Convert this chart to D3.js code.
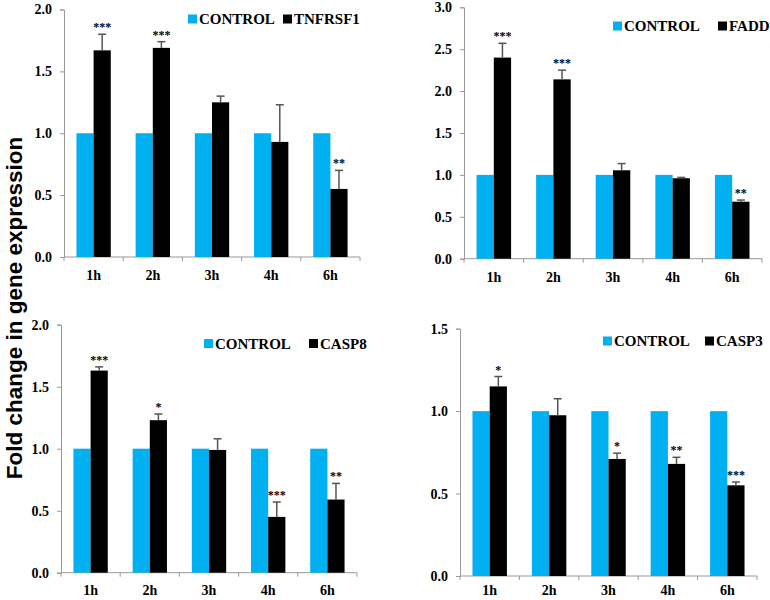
<!DOCTYPE html>
<html>
<head>
<meta charset="utf-8">
<script src="https://cdn.jsdelivr.net/npm/d3@7.9.0/dist/d3.min.js"></script>
<style>
  body { margin: 0; background: #fff; }
  svg { display: block; }
  .tick text { font-family: "Liberation Serif", "Times New Roman", serif; font-weight: bold; font-size: 14px; fill: #000; }
  .domain, .tick line { stroke: #999; }
  .xlab { font-family: "Liberation Serif", "Times New Roman", serif; font-weight: bold; font-size: 14px; }
  .legend text { font-family: "Liberation Serif", "Times New Roman", serif; font-weight: bold; font-size: 15px; }
  .sig { font-family: "Liberation Serif", "Times New Roman", serif; font-size: 12px; font-weight: bold; }
</style>
</head>
<body>
<svg id="chart" width="770" height="600"></svg>
<script>
// data
const times = ['1h', '2h', '3h', '4h', '6h'];
const control = [1, 1, 1, 1, 1];

const tnfrsf1 = [1.67, 1.69, 1.25, 0.93, 0.55];
const tnfrsf1Err = [0.13, 0.05, 0.05, 0.30, 0.15];
const tnfrsf1Sig = ['***', '***', '', '', '**'];

const fadd = [2.40, 2.14, 1.055, 0.96, 0.68];
const faddErr = [0.17, 0.11, 0.08, 0.01, 0.02];
const faddSig = ['***', '***', '', '', '**'];

const casp8 = [1.63, 1.23, 0.99, 0.45, 0.59];
const casp8Err = [0.03, 0.05, 0.09, 0.12, 0.13];
const casp8Sig = ['***', '*', '', '***', '**'];

const casp3 = [1.15, 0.975, 0.71, 0.68, 0.55];
const casp3Err = [0.06, 0.10, 0.035, 0.04, 0.02];
const casp3Sig = ['*', '', '*', '**', '***'];

const blue = '#00b0f0';
const svg = d3.select('#chart');

// panel layout (pixel boxes)
const panels = [
  { gene: 'TNFRSF1', vals: tnfrsf1, err: tnfrsf1Err, sig: tnfrsf1Sig, ymax: 2.0,
    x0: 64, x1: 360, yTop: 9.5, yBot: 257, leg: [188, 19, 283] },
  { gene: 'FADD', vals: fadd, err: faddErr, sig: faddSig, ymax: 3.0,
    x0: 464, x1: 762, yTop: 7.3, yBot: 258.7, leg: [613, 26, 718] },
  { gene: 'CASP8', vals: casp8, err: casp8Err, sig: casp8Sig, ymax: 2.0,
    x0: 61, x1: 357, yTop: 324.7, yBot: 572.7, leg: [204, 343.5, 309] },
  { gene: 'CASP3', vals: casp3, err: casp3Err, sig: casp3Sig, ymax: 1.5,
    x0: 460, x1: 757, yTop: 328.7, yBot: 576, leg: [603, 341, 705] },
];

panels.forEach(p => {
  const g = svg.append('g');

  const x = d3.scaleBand().domain(times).range([p.x0, p.x1])
    .paddingInner(0.42).paddingOuter(0.21);
  const xs = d3.scaleBand().domain(['control', 'gene']).range([0, x.bandwidth()]);
  const y = d3.scaleLinear().domain([0, p.ymax]).range([p.yBot, p.yTop]);

  // y axis
  const yAxis = d3.axisLeft(y).tickValues(d3.range(0, p.ymax + 0.01, 0.5))
    .tickFormat(d3.format('.1f')).tickSize(4).tickPadding(8);
  g.append('g').attr('transform', `translate(${p.x0},0)`).call(yAxis);

  // x axis: ticks at category boundaries
  const xAxisG = g.append('g').attr('transform', `translate(0,${p.yBot})`);
  xAxisG.append('line').attr('x1', p.x0).attr('x2', p.x1).attr('stroke', '#999');
  const step = x.step();
  d3.range(times.length + 1).forEach(i => {
    const xx = p.x0 + i * step;
    xAxisG.append('line').attr('x1', xx).attr('x2', xx).attr('y1', 0).attr('y2', 4).attr('stroke', '#999');
  });
  // keep the bottom row inside the page
  const labY = Math.min(23, 595 - p.yBot);
  times.forEach(t => {
    xAxisG.append('text').attr('class', 'xlab')
      .attr('x', x(t) + x.bandwidth() / 2).attr('y', labY)
      .attr('text-anchor', 'middle')
      .text(t);
  });

  // control bars
  g.selectAll('.cbar').data(times).join('rect')
    .attr('x', d => x(d) + xs('control'))
    .attr('y', (d, i) => y(control[i]))
    .attr('width', xs.bandwidth())
    .attr('height', (d, i) => y(0) - y(control[i]))
    .attr('fill', blue);

  // gene bars
  g.selectAll('.gbar').data(times).join('rect')
    .attr('x', d => x(d) + xs('gene'))
    .attr('y', (d, i) => y(p.vals[i]))
    .attr('width', xs.bandwidth())
    .attr('height', (d, i) => y(0) - y(p.vals[i]))
    .attr('fill', '#000');

  // error bars (upper only)
  times.forEach((t, i) => {
    const cx = x(t) + xs('gene') + xs.bandwidth() / 2;
    const top = y(p.vals[i] + p.err[i]);
    g.append('line').attr('x1', cx).attr('x2', cx)
      .attr('y1', y(p.vals[i])).attr('y2', top)
      .attr('stroke', '#555').attr('stroke-width', 1.5);
    g.append('line').attr('x1', cx - 4).attr('x2', cx + 4)
      .attr('y1', top).attr('y2', top)
      .attr('stroke', '#555').attr('stroke-width', 1.5);
    if (p.sig[i]) {
      g.append('text').attr('class', 'sig')
        .attr('x', cx).attr('y', top - 3)
        .attr('text-anchor', 'middle')
        .text(p.sig[i]);
    }
  });

  // legend
  const leg = g.append('g').attr('class', 'legend');
  const [bx, ly, kx] = p.leg;
  leg.append('rect').attr('x', bx).attr('y', ly - 4.5).attr('width', 9).attr('height', 9).attr('fill', blue);
  leg.append('text').attr('x', bx + 11).attr('y', ly + 5).text('CONTROL');
  leg.append('rect').attr('x', kx).attr('y', ly - 4.5).attr('width', 9).attr('height', 9).attr('fill', '#000');
  leg.append('text').attr('x', kx + 11).attr('y', ly + 5).text(p.gene);
});

// shared y title
svg.append('text')
  .attr('transform', 'translate(22,308) rotate(-90)')
  .attr('text-anchor', 'middle')
  .style('font-family', '"Liberation Sans", Arial, sans-serif')
  .style('font-weight', 'bold')
  .style('font-size', '22.5px')
  .text('Fold change in gene expression');
</script>
</body>
</html>
